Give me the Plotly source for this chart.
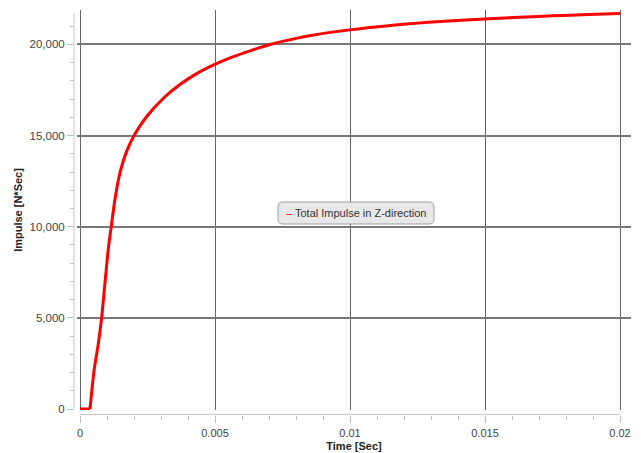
import plotly.graph_objects as go

# ---- data ----
time_s = [0, 0.00037, 0.00052, 0.00068, 0.0008, 0.00093, 0.00105, 0.00117, 0.0013,
          0.00148, 0.00173, 0.00204, 0.00247, 0.00309, 0.0037, 0.00432, 0.00501,
          0.00568, 0.0063, 0.007, 0.0075, 0.0085, 0.01, 0.0115, 0.0125, 0.0135,
          0.015, 0.0165, 0.0175, 0.0188, 0.02]
impulse = [0, 0, 2100, 3600, 5000, 7000, 8800, 10150, 11550,
           12950, 14150, 15100, 16050, 17050, 17800, 18400, 18920,
           19330, 19650, 19980, 20170, 20480, 20800, 21040, 21170, 21270,
           21400, 21510, 21570, 21640, 21700]
series_name = "Total Impulse in Z-direction"
x_title = "Time [Sec]"
y_title = "Impulse [N*Sec]"
x_ticks = [0, 0.005, 0.01, 0.015, 0.02]
x_tick_text = ["0", "0.005", "0.01", "0.015", "0.02"]
y_ticks = [0, 5000, 10000, 15000, 20000]
y_tick_text = ["0", "5,000", "10,000", "15,000", "20,000"]

W, H = 641, 453
ML, MR, MT, MB = 60, 10, 10, 30
PW, PH = W - ML - MR, H - MT - MB

def px_x(p):
    return (p - ML) / PW

def px_y(p):
    return (H - MB - p) / PH

FONT = "Liberation Sans, Arial, sans-serif"

fig = go.Figure()
# flat start (sharp corner) then the smooth rise
fig.add_trace(go.Scatter(x=time_s[:2], y=impulse[:2], mode="lines", name=series_name,
                         line=dict(color="#ff0000", width=3), showlegend=False))
fig.add_trace(go.Scatter(x=time_s[1:], y=impulse[1:], mode="lines", name=series_name,
                         line=dict(color="#ff0000", width=3, shape="spline", smoothing=0.8),
                         showlegend=False))

x_dom0 = px_x(77)
y_dom0 = px_y(410)
xaxis_pos = px_y(414.5)
yaxis_pos = px_x(74)

fig.update_layout(
    width=W, height=H,
    margin=dict(l=ML, r=MR, t=MT, b=MB, autoexpand=False),
    paper_bgcolor="white", plot_bgcolor="white",
    font=dict(family=FONT, size=11, color="#444"),
    xaxis=dict(
        domain=[x_dom0, 1], anchor="free", position=xaxis_pos, automargin=False,
        range=[-0.000111, 0.020407],
        tickmode="array", tickvals=x_ticks, ticktext=x_tick_text,
        ticks="outside", ticklen=7, tickcolor="#c0c0c0", tickwidth=1,
        ticklabelstandoff=1,
        minor=dict(dtick=0.001, tick0=0, ticks="outside", ticklen=4,
                   tickcolor="#c0c0c0", showgrid=False),
        showgrid=True, gridcolor="#666666", gridwidth=1.3,
        showline=False, zeroline=False,
        tickfont=dict(size=11, color="#444"),
        title=dict(text="<b>" + x_title + "</b>", font=dict(size=11, color="#222"),
                   standoff=4),
    ),
    yaxis=dict(
        domain=[y_dom0, 1], anchor="free", position=yaxis_pos, automargin=False,
        range=[-55, 21890],
        tickmode="array", tickvals=y_ticks, ticktext=y_tick_text,
        ticks="outside", ticklen=7, tickcolor="#c0c0c0", tickwidth=1,
        minor=dict(dtick=1000, tick0=0, ticks="outside", ticklen=4,
                   tickcolor="#c0c0c0", showgrid=False),
        showgrid=True, gridcolor="#777777", gridwidth=1.6,
        showline=False, zeroline=False,
        tickfont=dict(size=11.5, color="#444"),
        title=dict(text="<b>" + y_title + "</b>", font=dict(size=11, color="#222"),
                   standoff=3),
    ),
    showlegend=False,
)

# gray axis lines spanning the data range
fig.add_shape(type="line", xref="x", yref="paper", x0=0, x1=0.02,
              y0=xaxis_pos, y1=xaxis_pos, line=dict(color="#c8c8c8", width=1))
fig.add_shape(type="line", xref="paper", yref="y", x0=yaxis_pos, x1=yaxis_pos,
              y0=0, y1=21700, line=dict(color="#c8c8c8", width=1))

# legend box (rounded)
lx0, lx1, ly0, ly1 = 278, 434, 202, 224
r = 5
x0, x1 = px_x(lx0), px_x(lx1)
y0, y1 = px_y(ly1), px_y(ly0)
rx, ry = r / PW, r / PH
path = (f"M {x0+rx} {y0} L {x1-rx} {y0} Q {x1} {y0} {x1} {y0+ry} "
        f"L {x1} {y1-ry} Q {x1} {y1} {x1-rx} {y1} L {x0+rx} {y1} "
        f"Q {x0} {y1} {x0} {y1-ry} L {x0} {y0+ry} Q {x0} {y0} {x0+rx} {y0} Z")
fig.add_shape(type="path", path=path, xref="paper", yref="paper",
              fillcolor="#e8e8e8", line=dict(color="#a0a0a0", width=1), layer="above")
fig.add_annotation(xref="paper", yref="paper", x=(x0 + x1) / 2, y=(y0 + y1) / 2,
                   xanchor="center", yanchor="middle", showarrow=False,
                   text="<span style='color:#ff0000'>–</span> " + series_name,
                   font=dict(size=11, color="#333", family=FONT))

fig.write_html("out.html")
